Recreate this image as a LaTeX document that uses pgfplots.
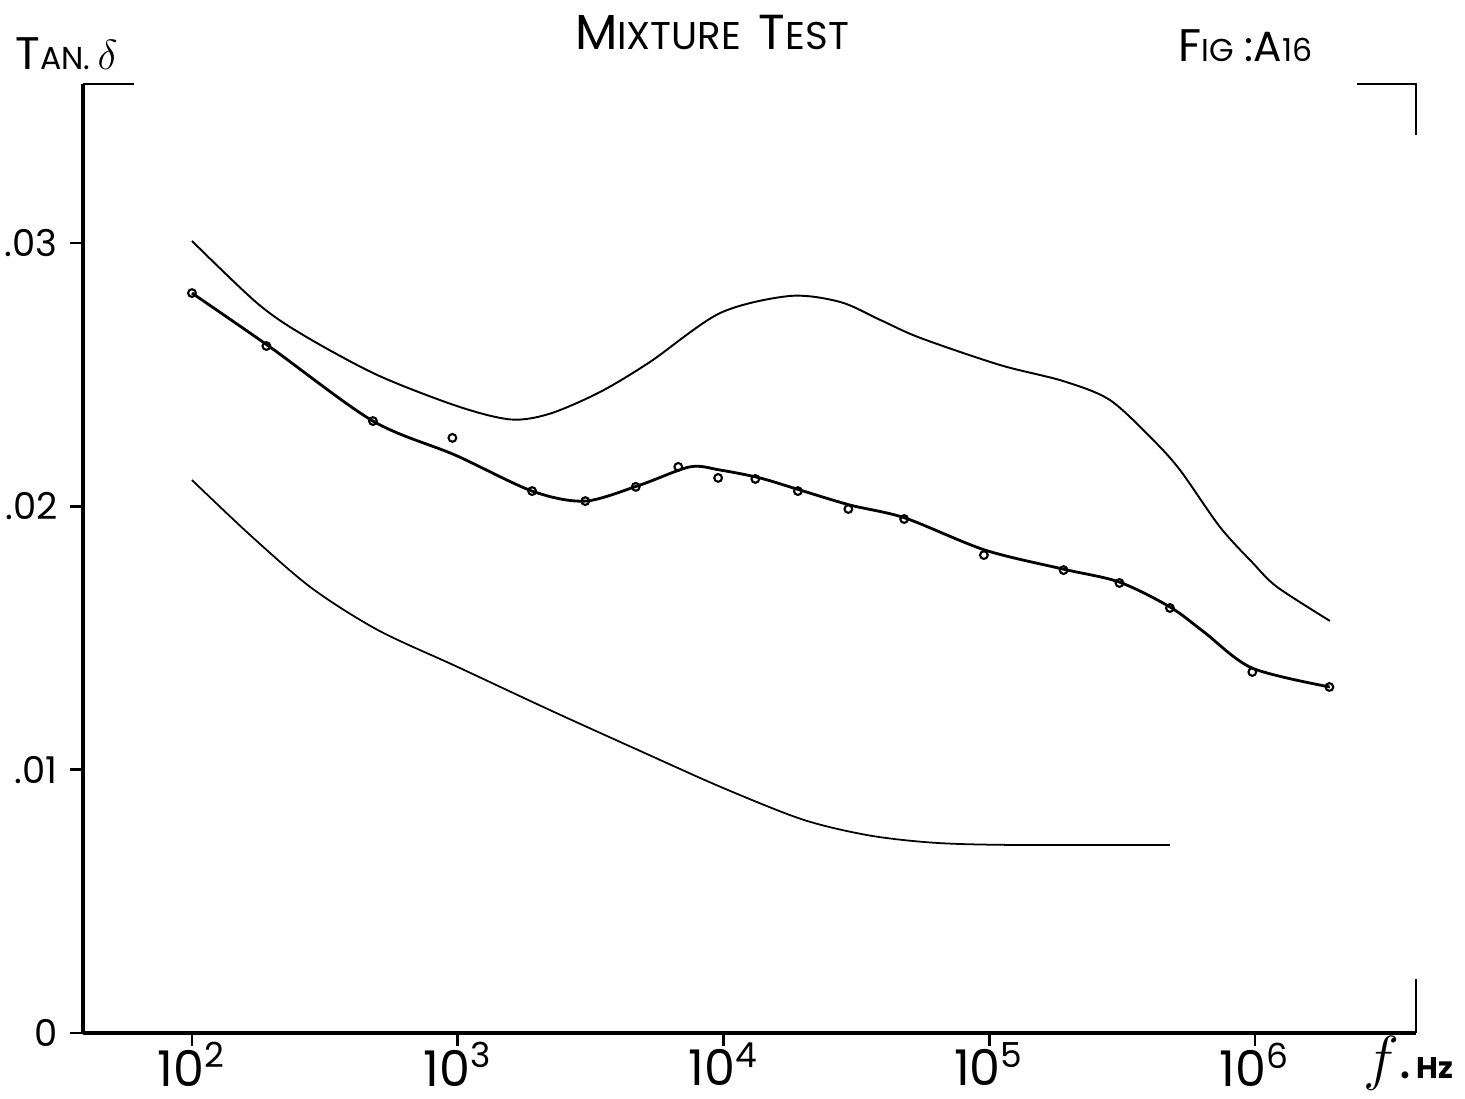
\documentclass[border=0pt]{standalone}
\usepackage{fontspec}
\setmainfont{Poppins}
\usepackage{pgfplots}
\pgfplotsset{compat=1.18}

% x values are log10(f / Hz)
\pgfplotstableread{
lx     y
2.000  0.03008
2.245  0.02772
2.418  0.02651
2.697  0.02499
3.000  0.02380
3.200  0.02330
3.347  0.02352
3.535  0.02434
3.723  0.02548
3.987  0.02734
4.250  0.02799
4.440  0.02776
4.590  0.02708
4.740  0.02640
5.040  0.02537
5.278  0.02476
5.454  0.02404
5.616  0.02253
5.718  0.02138
5.868  0.01922
5.992  0.01785
6.083  0.01694
6.282  0.01565
}\uppercurve

\pgfplotstableread{
lx     y
2.000  0.02810
2.294  0.02605
2.681  0.02324
2.990  0.02195
3.280  0.02058
3.479  0.02020
3.686  0.02081
3.874  0.02150
3.987  0.02138
4.137  0.02108
4.288  0.02062
4.476  0.02005
4.683  0.01956
4.984  0.01834
5.277  0.01762
5.488  0.01713
5.680  0.01618
5.808  0.01523
5.989  0.01386
6.282  0.01314
}\mixcurve

\pgfplotstableread{
lx     y
2.000  0.02810
2.280  0.02609
2.681  0.02324
2.980  0.02260
3.280  0.02058
3.480  0.02020
3.670  0.02074
3.830  0.02150
3.980  0.02108
4.120  0.02104
4.280  0.02058
4.470  0.01990
4.680  0.01952
4.980  0.01815
5.280  0.01758
5.490  0.01709
5.680  0.01614
5.990  0.01371
6.280  0.01314
}\mixpts

\pgfplotstableread{
lx     y
2.000  0.02100
2.220  0.01890
2.450  0.01690
2.700  0.01530
3.000  0.01390
3.350  0.01225
3.700  0.01065
4.000  0.00930
4.300  0.00810
4.550  0.00750
4.800  0.00722
5.100  0.00714
5.680  0.00714
}\lowercurve

\begin{document}
\begin{tikzpicture}
\path[use as bounding box] (-0.83cm,-0.66cm) rectangle (13.82cm,10.33cm);
\begin{axis}[
    at={(0,0)}, anchor=south west,
    scale only axis, width=13.33cm, height=9.49cm,
    xmin=1.59, xmax=6.606, ymin=0, ymax=0.03604,
    axis x line*=bottom, axis y line*=left,
    axis line style={line width=0.9pt, -},
    clip=false,
    xtick={2,3,4,5,6},
    xticklabels={10\textsuperscript{2},10\textsuperscript{3},10\textsuperscript{4},10\textsuperscript{5},10\textsuperscript{6}},
    ytick={0,0.01,0.02,0.03},
    yticklabels={0,.01,.02,.03},
    x tick label style={font=\fontsize{14}{14}\selectfont, yshift=4.5pt},
    y tick label style={font=\fontsize{10.5}{10.5}\selectfont},
    tick align=outside, major tick length=0.13cm,
    tick style={line width=0.8pt, black},
    scaled y ticks=false,
]
\addplot[black, line width=0.55pt, smooth] table[x=lx, y=y] {\uppercurve};
\addplot[black, line width=0.8pt, smooth] table[x=lx, y=y] {\mixcurve};
\addplot[black, only marks, mark=o, mark size=1.1pt, mark options={line width=0.6pt}] table[x=lx, y=y] {\mixpts};
\addplot[black, line width=0.5pt, smooth] table[x=lx, y=y] {\lowercurve};
% corner marks of the frame
\draw[line width=0.7pt] (rel axis cs:0,1) -- (rel axis cs:0.0383,1);
\draw[line width=0.7pt] (rel axis cs:0.9557,1) -- (rel axis cs:1,1) -- (rel axis cs:1,0.9463);
\draw[line width=0.7pt] (rel axis cs:1,0) -- (rel axis cs:1,0.0569);
\end{axis}
\node[anchor=base] at (6.29cm,9.83cm)
  {{\fontsize{14}{14}\selectfont M}{\fontsize{11}{11}\selectfont IXTURE}\hspace{0.5em}{\fontsize{14}{14}\selectfont T}{\fontsize{11}{11}\selectfont EST}};
\node[anchor=base west, inner sep=0pt] at (-0.68cm,9.63cm)
  {{\fontsize{13}{13}\selectfont T}{\fontsize{9}{9}\selectfont AN.}\hspace{0.2em}{\fontsize{13}{13}\selectfont$\delta$}};
\node[anchor=base west, inner sep=0pt] at (10.95cm,9.71cm)
  {{\fontsize{13}{13}\selectfont F}{\fontsize{9}{9}\selectfont IG}\hspace{0.3em}{\fontsize{12}{12}\selectfont :A}{\fontsize{9}{9}\selectfont 16}};
\node[anchor=base west, inner sep=0pt] at (12.80cm,-0.46cm)
  {{\fontsize{16}{16}\selectfont$f$.}\hspace{0.15em}{\fontsize{8.5}{8.5}\selectfont\bfseries Hz}};
\end{tikzpicture}
\end{document}
